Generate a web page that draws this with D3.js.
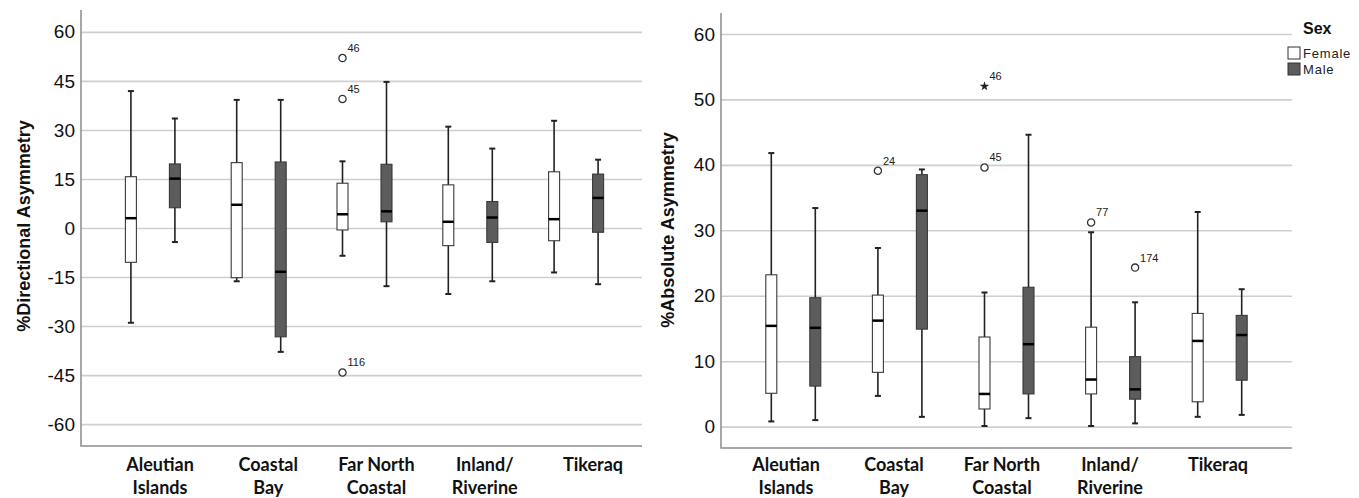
<!DOCTYPE html>
<html>
<head>
<meta charset="utf-8">
<script src="https://cdn.jsdelivr.net/npm/d3@7"></script>
<style>
  body { margin: 0; background: #fff; }
  svg { display: block; }
  .sans { font-family: 'Liberation Sans', Arial, sans-serif; }
  .cat { font-family: 'Lato', 'Open Sans', sans-serif; font-weight: bold; }
</style>
</head>
<body>
<div id="viz"></div>
<script>
"use strict";
// region labels, one entry per line
const regions = ["Aleutian Islands", "Coastal Bay", "Far North Coastal", "Inland/ Riverine", "Tikeraq"];
const regionLines = [["Aleutian", "Islands"], ["Coastal", "Bay"], ["Far North", "Coastal"], ["Inland/", "Riverine"], ["Tikeraq"]];
const sexes = ["Female", "Male"];

// [lower whisker, q1, median, q3, upper whisker] per region
const dirFemale = [[-29.0, -10.5, 3.0, 15.7, 41.9], [-16.3, -15.2, 7.1, 20.0, 39.2], [-8.5, -0.6, 4.2, 13.7, 20.4], [-20.2, -5.4, 1.9, 13.2, 31.0], [-13.6, -3.9, 2.7, 17.2, 32.8]];
const dirMale = [[-4.3, 6.2, 15.1, 19.6, 33.5], [-37.9, -33.3, -13.4, 20.2, 39.2], [-17.8, 1.9, 5.1, 19.5, 44.7], [-16.3, -4.4, 3.2, 8.1, 24.3], [-17.2, -1.3, 9.2, 16.5, 20.9]];
const dirOutliers = [
  { region: "Far North Coastal", sex: "Female", value: 52.0, id: "46", kind: "circle" },
  { region: "Far North Coastal", sex: "Female", value: 39.5, id: "45", kind: "circle" },
  { region: "Far North Coastal", sex: "Female", value: -44.2, id: "116", kind: "circle" }
];
const dirTicks = [-60, -45, -30, -15, 0, 15, 30, 45, 60];

const absFemale = [[0.8, 5.1, 15.4, 23.2, 41.8], [4.7, 8.3, 16.2, 20.1, 27.3], [0.1, 2.7, 5.0, 13.7, 20.5], [0.1, 5.0, 7.2, 15.2, 29.7], [1.5, 3.8, 13.1, 17.3, 32.8]];
const absMale = [[1.0, 6.2, 15.1, 19.7, 33.4], [1.5, 14.9, 33.0, 38.5, 39.3], [1.3, 5.0, 12.6, 21.3, 44.6], [0.5, 4.2, 5.7, 10.7, 19.0], [1.8, 7.1, 14.0, 17.0, 21.0]];
const absOutliers = [
  { region: "Coastal Bay", sex: "Female", value: 39.1, id: "24", kind: "circle" },
  { region: "Far North Coastal", sex: "Female", value: 52.0, id: "46", kind: "star" },
  { region: "Far North Coastal", sex: "Female", value: 39.6, id: "45", kind: "circle" },
  { region: "Inland/ Riverine", sex: "Female", value: 31.2, id: "77", kind: "circle" },
  { region: "Inland/ Riverine", sex: "Male", value: 24.3, id: "174", kind: "circle" }
];
const absTicks = [0, 10, 20, 30, 40, 50, 60];

const fills = { Female: "#ffffff", Male: "#5c5c5c" };

const svg = d3.select("#viz").append("svg")
  .attr("width", 1359)
  .attr("height", 498);

function toRows(female, male) {
  let rows = [];
  regions.forEach((r, i) => {
    rows.push({ region: r, sex: "Female", s: female[i] });
    rows.push({ region: r, sex: "Male", s: male[i] });
  });
  return rows;
}

function drawPanel(p) {
  const y = d3.scaleLinear().domain(p.domain).range([p.bottom, p.top]);
  const x = d3.scaleBand().domain(regions).range(p.band);
  const sub = d3.scalePoint().domain(sexes).range([-22, 22]);
  const lab = d3.scalePoint().domain(regions).range(p.labelRange);
  const bw = 11;
  const cx = d => x(d.region) + x.bandwidth() / 2 + sub(d.sex);

  const g = svg.append("g");

  // gridlines + tick labels
  const yAxis = g.append("g")
    .attr("transform", `translate(${p.left},0)`)
    .call(d3.axisLeft(y).tickValues(p.ticks).tickFormat(d => String(d))
      .tickSize(-(p.right - p.left)).tickPadding(6));
  yAxis.select(".domain").remove();
  yAxis.attr("font-family", null).attr("font-size", null);
  yAxis.selectAll(".tick line").attr("stroke", "#cfcfcf").attr("stroke-width", 1.6);
  yAxis.selectAll(".tick text")
    .attr("class", "sans")
    .style("font-size", "19px")
    .attr("fill", "#111");

  // axis frame
  g.append("path")
    .attr("d", `M${p.left},${p.top}V${p.bottom}H${p.right}`)
    .attr("fill", "none")
    .attr("stroke", "#8c8c8c")
    .attr("stroke-width", 1.5);

  const rows = toRows(p.female, p.male);
  const boxes = g.selectAll(".box").data(rows).enter().append("g");

  // whiskers
  boxes.append("line")
    .attr("x1", cx).attr("x2", cx)
    .attr("y1", d => y(d.s[0])).attr("y2", d => y(d.s[4]))
    .attr("stroke", "#222").attr("stroke-width", 1.6);
  [0, 4].forEach(k => {
    boxes.append("line")
      .attr("x1", d => cx(d) - 3).attr("x2", d => cx(d) + 3)
      .attr("y1", d => y(d.s[k])).attr("y2", d => y(d.s[k]))
      .attr("stroke", "#222").attr("stroke-width", 2);
  });
  boxes.append("rect")
    .attr("x", d => cx(d) - bw / 2)
    .attr("width", bw)
    .attr("y", d => y(d.s[3]))
    .attr("height", d => y(d.s[1]) - y(d.s[3]))
    .attr("fill", d => fills[d.sex])
    .attr("stroke", "#3a3a3a")
    .attr("stroke-width", 1.1);
  boxes.append("line")
    .attr("x1", d => cx(d) - bw / 2).attr("x2", d => cx(d) + bw / 2)
    .attr("y1", d => y(d.s[2])).attr("y2", d => y(d.s[2]))
    .attr("stroke", "#000").attr("stroke-width", 2.5);

  // outliers
  const outs = g.selectAll(".out").data(p.outliers).enter().append("g")
    .attr("transform", d => `translate(${cx(d)},${y(d.value)})`);
  outs.filter(d => d.kind === "circle").append("circle")
    .attr("r", 3.6)
    .attr("fill", "#fff")
    .attr("stroke", "#333")
    .attr("stroke-width", 1.3);
  outs.filter(d => d.kind === "star").append("path")
    .attr("d", d3.symbol().type(d3.symbolStar).size(28))
    .attr("fill", "#222");
  outs.append("text")
    .attr("class", "sans")
    .attr("x", 5).attr("y", -6)
    .style("font-size", "11px")
    .attr("fill", "#222")
    .text(d => d.id);

  // category labels
  const labels = g.selectAll(".catlab").data(regions).enter().append("text")
    .attr("class", "cat")
    .attr("text-anchor", "middle")
    .style("font-size", "18px")
    .attr("fill", "#111");
  labels.selectAll("tspan")
    .data((d, i) => regionLines[i].map(t => ({ t: t, r: d })))
    .enter().append("tspan")
    .attr("x", d => lab(d.r))
    .attr("y", (d, j) => 471 + j * 23)
    .text(d => d.t);

  // y title
  g.append("text")
    .attr("class", "sans")
    .attr("transform", `translate(${p.titleX},${p.titleY}) rotate(-90)`)
    .attr("text-anchor", "middle")
    .attr("dominant-baseline", "middle")
    .style("font-weight", "bold")
    .style("font-size", "18px")
    .attr("fill", "#111")
    .text(p.title);
}

drawPanel({
  left: 81, right: 642, top: 10, bottom: 446,
  domain: [-66.7, 66.7], band: [100, 629], labelRange: [160, 593],
  ticks: dirTicks, female: dirFemale, male: dirMale, outliers: dirOutliers,
  title: "%Directional Asymmetry", titleX: 25, titleY: 226
});
drawPanel({
  left: 721, right: 1292, top: 13, bottom: 448,
  domain: [-3.26, 63.2], band: [740, 1273], labelRange: [786, 1218],
  ticks: absTicks, female: absFemale, male: absMale, outliers: absOutliers,
  title: "%Absolute Asymmetry", titleX: 669, titleY: 230
});

// legend
const legend = svg.append("g").attr("transform", "translate(1288,0)");
legend.append("text")
  .attr("class", "sans")
  .attr("x", 15).attr("y", 34)
  .style("font-weight", "bold").style("font-size", "16px")
  .attr("fill", "#111")
  .text("Sex");
const items = legend.selectAll(".item").data(sexes).enter().append("g")
  .attr("transform", (d, i) => `translate(0,${47 + i * 16})`);
items.append("rect")
  .attr("width", 12).attr("height", 12)
  .attr("fill", d => fills[d])
  .attr("stroke", "#333").attr("stroke-width", 1);
items.append("text")
  .attr("class", "sans")
  .attr("x", 15).attr("y", 11)
  .style("font-size", "13px")
  .style("letter-spacing", "0.8px")
  .attr("fill", "#222")
  .text(d => d);
</script>
</body>
</html>
